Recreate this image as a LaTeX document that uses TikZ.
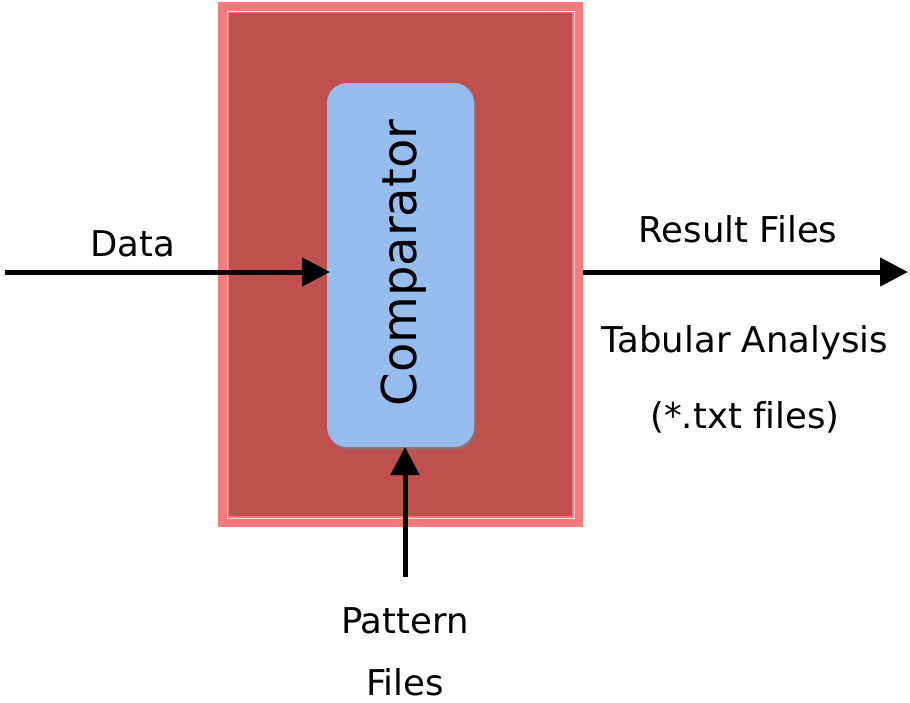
\documentclass[tikz,border=0pt]{standalone}
\usepackage{fontspec}
\setmainfont[Ligatures=NoCommon]{DejaVu Sans}
\usetikzlibrary{arrows.meta,shadows}
\definecolor{redlight}{HTML}{F97A7A}
\definecolor{reddark}{HTML}{C0504D}
\definecolor{blueface}{HTML}{97BDEE}
\tikzset{
  flow/.style={line width=5pt, -{Triangle[length=28pt,width=28pt]}},
  lbl/.style={font=\fontsize{35.5}{40}\selectfont, inner sep=0pt, anchor=base},
}
\begin{document}
\begin{tikzpicture}[x=1pt,y=-1pt]
\useasboundingbox (0,0) rectangle (910,702);
% outer red bevelled frame
\node[draw=none, fill=redlight, minimum width=365pt, minimum height=525pt, inner sep=0pt] (frame) at (400.5,264.5) {};
\draw[white!70!redlight, line width=1pt] (227,11) rectangle (574,518);
\node[fill=reddark, minimum width=343pt, minimum height=503pt, inner sep=0pt] (core) at (400.5,264.5) {};
% comparator
\node[fill=blueface, rounded corners=20pt, minimum width=147pt, minimum height=364pt, inner sep=0pt,
      drop shadow={shadow xshift=2pt, shadow yshift=-3pt, opacity=0.6}] (comp) at (400.5,265) {};
\node[rotate=90, font=\fontsize{48}{52}\selectfont, inner sep=0pt] (ctext) at (404,263) {Comparator};
% coordinates for arrows
\coordinate (din) at (5,272);
\coordinate (dout) at (330,272);
\coordinate (rin) at (583,272);
\coordinate (rout) at (908,272);
\coordinate (pin) at (405,577);
\coordinate (pout) at (405,447);
\draw[flow] (din) -- (dout);
\draw[flow] (rin) -- (rout);
\draw[flow] (pin) -- (pout);
% labels
\node[lbl] (data) at (133,256) {Data};
\node[lbl] (res) at (738,242) {Result Files};
\node[lbl] (tab) at (745,352) {Tabular Analysis};
\node[lbl] (txt) at (745,428) {(*.txt files)};
\node[lbl] (pat) at (405,633) {Pattern};
\node[lbl] (pf) at (405,695) {Files};
\end{tikzpicture}
\end{document}
